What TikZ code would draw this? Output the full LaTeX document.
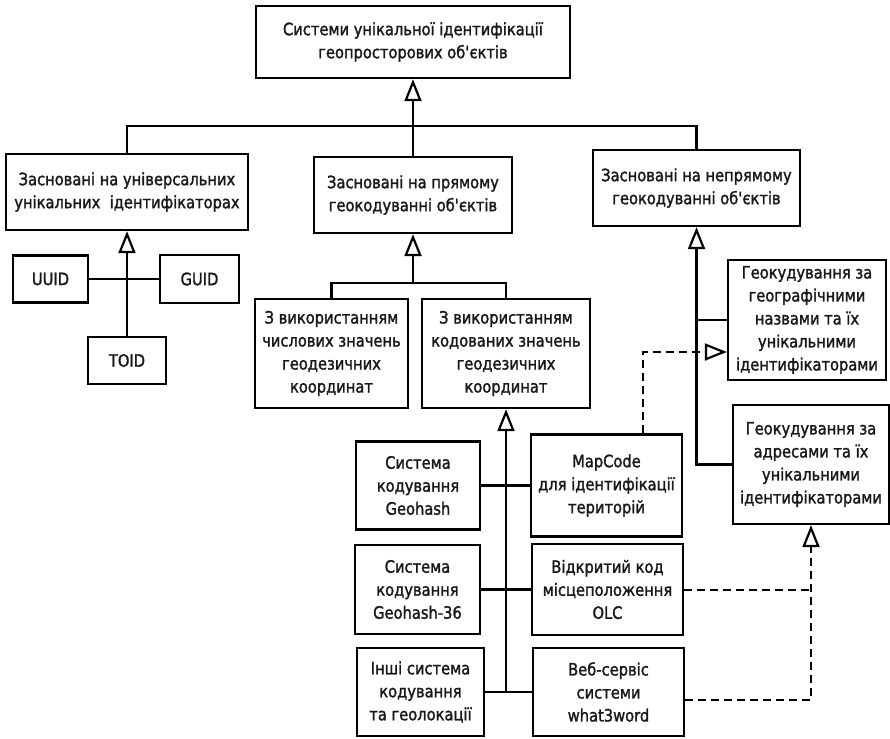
\documentclass[tikz,border=0pt]{standalone}
\usepackage{fontspec}
\setmainfont{DejaVu Sans Condensed}
\newfontfamily\boxfont{DejaVu Sans Condensed}[FakeStretch=0.96, FakeBold=1.6]
\usetikzlibrary{arrows.meta}
\tikzset{
  box/.style={draw, line width=2.3pt, inner sep=0pt, align=center, font=\boxfont\fontsize{17}{23}\selectfont, text=black!90},
  conn/.style={line width=2.2pt},
  gen/.style={conn, -{Triangle[open, length=22pt, width=17pt, fill=white]}},
  dconn/.style={conn, dash pattern=on 8pt off 5pt},
  dgen/.style={dconn, -{Triangle[open, length=22pt, width=17pt, fill=white]}}
}
\begin{document}
\begin{tikzpicture}[x=1pt, y=-1pt]
\useasboundingbox (0,0) rectangle (890,738);
% boxes
\node[box, minimum width=314pt, minimum height=72pt] (top) at (413,42) {Системи унікальної ідентифікації\\геопросторових об\textquotesingle єктів};
\node[box, minimum width=242pt, minimum height=76pt] (L1) at (127,192) {Засновані на універсальних\\унікальних\ \ ідентифікаторах};
\node[box, minimum width=198pt, minimum height=76pt] (M1) at (413,195) {Засновані на прямому\\геокодуванні об\textquotesingle єктів};
\node[box, minimum width=207pt, minimum height=76pt] (R1) at (696.5,188) {Засновані на непрямому\\геокодуванні об\textquotesingle єктів};
\node[box, minimum width=75pt, minimum height=47pt] (UUID) at (50.5,279) {UUID};
\node[box, minimum width=79pt, minimum height=48pt] (GUID) at (199.5,279) {GUID};
\node[box, minimum width=78pt, minimum height=47pt] (TOID) at (127,360.5) {TOID};
\node[box, minimum width=153pt, minimum height=109pt] (Num) at (331.5,353.5) {З використанням\\числових значень\\геодезичних\\координат};
\node[box, minimum width=168pt, minimum height=109pt] (Cod) at (506,353.5) {З використанням\\кодованих значень\\геодезичних\\координат};
\node[box, minimum width=158pt, minimum height=120pt] (GeoN) at (807,320) {Геокудування за\\географічними\\назвами та їх\\унікальними\\ідентифікаторами};
\node[box, minimum width=156pt, minimum height=119pt] (Addr) at (811,464.5) {Геокудування за\\адресами та їх\\унікальними\\ідентифікаторами};
\node[box, minimum width=124pt, minimum height=88pt] (Gh) at (418,485.5) {Система\\кодування\\Geohash};
\node[box, minimum width=151pt, minimum height=102pt] (Map) at (606.5,485.5) {MapCode\\для ідентифікації\\територій};
\node[box, minimum width=125pt, minimum height=89pt] (Gh36) at (417.5,589.5) {Система\\кодування\\Geohash-36};
\node[box, minimum width=151pt, minimum height=91pt] (OLC) at (607.5,589.5) {Відкритий код\\місцеположення\\OLC};
\node[box, minimum width=127pt, minimum height=88pt] (Oth) at (420.5,692) {Інші система\\кодування\\та геолокації};
\node[box, minimum width=151pt, minimum height=88pt] (W3W) at (608.5,692) {Веб-сервіс\\системи\\what3word};
% coordinates
\coordinate (bus) at (413,126);
\coordinate (mbus) at (413,283);
\coordinate (cbot) at (506,692);
\coordinate (d1) at (643,352);
\coordinate (d2) at (811,590);
\coordinate (d3) at (811,700);
% top level
\draw[conn] (L1.north) -- (L1.north |- bus) -- (R1.north |- bus) -- (R1.north);
\draw[conn] (M1.north) -- (bus);
\draw[gen] (bus) -- (top.south);
% left branch
\draw[conn] (UUID.east) -- (GUID.west);
\draw[gen] (TOID.north) -- (L1.south);
% middle branch
\draw[conn] (Num.north) |- (mbus) -| (Cod.north);
\draw[gen] (mbus) -- (M1.south);
\draw[conn] (Gh.east) -- (Map.west);
\draw[conn] (Gh36.east) -- (OLC.west);
\draw[conn] (Oth.east) -- (W3W.west);
\draw[gen] (cbot) -- (Cod.south);
% right branch
\draw[gen] (Addr.west) -| (R1.south);
\draw[conn] (GeoN.west) -- (GeoN.west -| R1.south);
% dashed
\draw[dgen] (Map.north -| d1) |- (GeoN.west |- d1);
\draw[dconn] (OLC.east |- d2) -- (d2);
\draw[dgen] (W3W.east |- d3) -| (Addr.south);
\end{tikzpicture}
\end{document}
